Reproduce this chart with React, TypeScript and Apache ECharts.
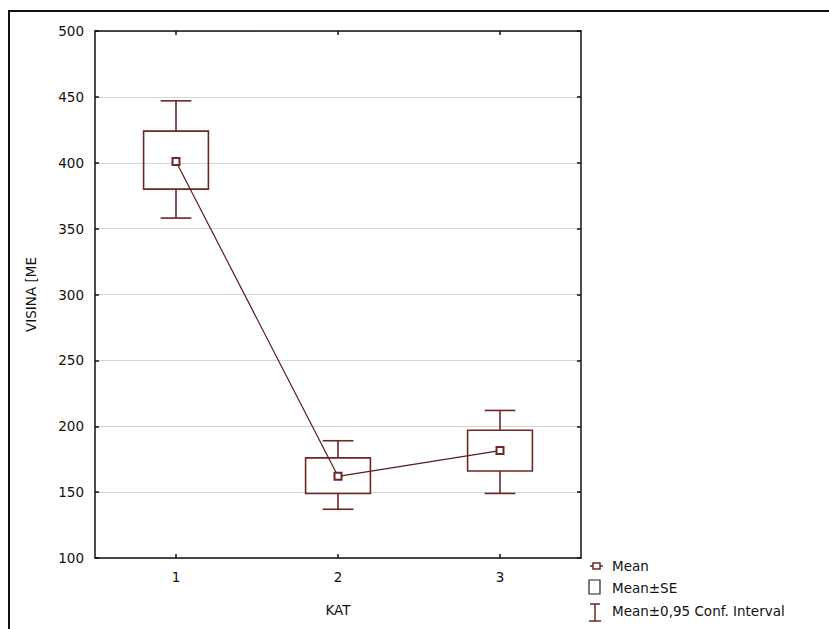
import React, { useEffect, useRef } from "react";
import * as echarts from "echarts";

const categories = ["1", "2", "3"];
const means = [401, 162, 181.5];
const seLow = [380, 149, 166];
const seHigh = [424, 176, 197];
const ciLow = [358, 137, 149];
const ciHigh = [447, 189, 212];
const yTicks = { min: 100, max: 500, interval: 50 };

const LINE = "#6e2626";
const FONT = "DejaVu Sans";
const FS = 13.5;

export default function App() {
  const ref = useRef<HTMLDivElement>(null);
  useEffect(() => {
    if (!ref.current) return;
    const chart = echarts.init(ref.current, undefined, { renderer: "svg" });
    const boxData = categories.map((c, i) => [i, ciLow[i], seLow[i], means[i], seHigh[i], ciHigh[i]]);
    const axisLine = { show: true, lineStyle: { color: "#111", width: 1.5 } };
    const tick = { show: true, inside: true, length: 4, lineStyle: { color: "#111", width: 1.5 } };
    const option: any = {
      animation: false,
      backgroundColor: "#fff",
      grid: { left: 95, top: 31, width: 486, height: 527, containLabel: false },
      xAxis: [
        {
          type: "category",
          data: categories,
          boundaryGap: true,
          position: "bottom",
          name: "KAT",
          nameLocation: "middle",
          nameGap: 45,
          nameTextStyle: { fontFamily: FONT, fontSize: FS, color: "#111" },
          axisLine,
          axisTick: { ...tick, alignWithLabel: true },
          axisLabel: { fontFamily: FONT, fontSize: FS, color: "#111", margin: 12 },
          splitLine: { show: false },
        },
        {
          type: "category",
          data: categories,
          boundaryGap: true,
          position: "top",
          axisLine,
          axisTick: { ...tick, alignWithLabel: true },
          axisLabel: { show: false },
          splitLine: { show: false },
        },
      ],
      yAxis: [
        {
          type: "value",
          min: yTicks.min,
          max: yTicks.max,
          interval: yTicks.interval,
          position: "left",
          name: "VISINA [ME",
          nameLocation: "middle",
          nameGap: 57,
          nameTextStyle: { fontFamily: FONT, fontSize: FS, color: "#111" },
          axisLine,
          axisTick: tick,
          axisLabel: { fontFamily: FONT, fontSize: FS, color: "#111", margin: 11 },
          splitLine: { show: true, lineStyle: { color: "#d4d4d4", width: 1 } },
        },
        {
          type: "value",
          min: yTicks.min,
          max: yTicks.max,
          interval: yTicks.interval,
          position: "right",
          axisLine,
          axisTick: tick,
          axisLabel: { show: false },
          splitLine: { show: false },
        },
      ],
      series: [
        {
          type: "custom",
          xAxisIndex: 0,
          yAxisIndex: 0,
          data: boxData,
          z: 2,
          renderItem: (params: any, api: any) => {
            const x = api.value(0);
            const band = api.size([1, 0])[0];
            const boxW = band * 0.4;
            const capW = band * 0.19;
            const pCiL = api.coord([x, api.value(1)]);
            const pSeL = api.coord([x, api.value(2)]);
            const pSeH = api.coord([x, api.value(4)]);
            const pCiH = api.coord([x, api.value(5)]);
            const cx = pCiL[0];
            const style = { stroke: LINE, lineWidth: 1.6, fill: null };
            return {
              type: "group",
              children: [
                { type: "line", shape: { x1: cx, y1: pCiH[1], x2: cx, y2: pSeH[1] }, style },
                { type: "line", shape: { x1: cx, y1: pSeL[1], x2: cx, y2: pCiL[1] }, style },
                { type: "line", shape: { x1: cx - capW / 2, y1: pCiH[1], x2: cx + capW / 2, y2: pCiH[1] }, style },
                { type: "line", shape: { x1: cx - capW / 2, y1: pCiL[1], x2: cx + capW / 2, y2: pCiL[1] }, style },
                {
                  type: "rect",
                  shape: { x: cx - boxW / 2, y: pSeH[1], width: boxW, height: pSeL[1] - pSeH[1] },
                  style: { stroke: LINE, lineWidth: 1.6, fill: "rgba(0,0,0,0)" },
                },
              ],
            };
          },
        },
        {
          type: "line",
          name: "Mean",
          data: means,
          xAxisIndex: 0,
          yAxisIndex: 0,
          z: 3,
          symbol: "rect",
          symbolSize: 7,
          lineStyle: { color: "#5a1c1c", width: 1.2 },
          itemStyle: { color: "#fff", borderColor: LINE, borderWidth: 2 },
        },
      ],
      graphic: [
        { type: "line", shape: { x1: 8, y1: 11, x2: 829, y2: 11 }, style: { stroke: "#111", lineWidth: 2 } },
        { type: "line", shape: { x1: 9, y1: 10, x2: 9, y2: 629 }, style: { stroke: "#111", lineWidth: 2 } },
        // legend: Mean
        { type: "line", shape: { x1: 590, y1: 566, x2: 603, y2: 566 }, style: { stroke: LINE, lineWidth: 1.5 } },
        { type: "rect", shape: { x: 593, y: 563, width: 7, height: 6 }, style: { stroke: LINE, lineWidth: 1.5, fill: "#fff" } },
        { type: "text", x: 612, y: 566, style: { text: "Mean", fontFamily: FONT, fontSize: FS, fill: "#111", verticalAlign: "middle" } },
        // legend: Mean±SE
        { type: "rect", shape: { x: 589, y: 580, width: 11, height: 14 }, style: { stroke: "#222", lineWidth: 1.2, fill: "#fff" } },
        { type: "text", x: 612, y: 588, style: { text: "Mean±SE", fontFamily: FONT, fontSize: FS, fill: "#111", verticalAlign: "middle" } },
        // legend: CI
        { type: "line", shape: { x1: 595, y1: 604, x2: 595, y2: 621 }, style: { stroke: LINE, lineWidth: 1.5 } },
        { type: "line", shape: { x1: 590, y1: 604, x2: 600, y2: 604 }, style: { stroke: LINE, lineWidth: 1.5 } },
        { type: "line", shape: { x1: 589, y1: 621, x2: 601, y2: 621 }, style: { stroke: LINE, lineWidth: 1.5 } },
        { type: "text", x: 612, y: 611, style: { text: "Mean±0,95 Conf. Interval", fontFamily: FONT, fontSize: FS, fill: "#111", verticalAlign: "middle" } },
      ],
    };
    chart.setOption(option);
    return () => chart.dispose();
  }, []);
  return (
    <div
      ref={ref}
      style={{ position: "fixed", left: 0, top: 0, width: 829, height: 629, background: "#fff" }}
    />
  );
}
